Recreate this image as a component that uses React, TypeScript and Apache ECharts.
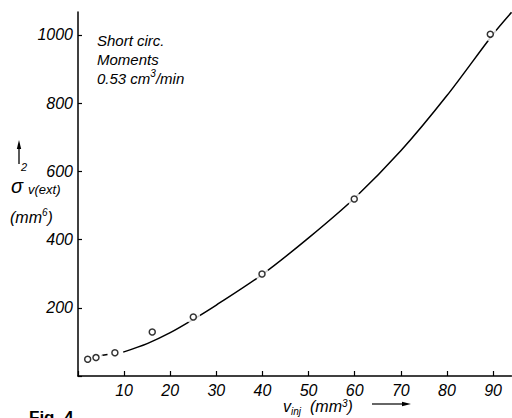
import React, { useEffect, useRef } from "react";
import * as echarts from "echarts";

// Measured points (v_inj in mm^3, sigma^2 in mm^6)
const pointsX = [2.1, 3.9, 8.0, 16.1, 25.0, 39.9, 59.9, 89.4];
const pointsY = [49, 54, 68, 129, 173, 299, 519, 1002];

// Fitted curve
const curveX = [9.8, 15, 20, 25, 30, 40, 50, 60, 70, 80, 90, 94];
const curveY = [70, 95, 127, 166, 208, 298, 405, 522, 660, 822, 1002, 1066];

// Short dash between the first points
const dashX = [5.0, 6.4];
const dashY = [60, 63];

const FONT = "'Liberation Sans', Arial, sans-serif";

export default function App() {
  const ref = useRef<HTMLDivElement>(null);
  useEffect(() => {
    if (!ref.current) return;
    const chart = echarts.init(ref.current, undefined, { renderer: "svg" });
    const pts = pointsX.map((x, i) => [x, pointsY[i]]);
    const curve = curveX.map((x, i) => [x, curveY[i]]);
    const dash = dashX.map((x, i) => [x, dashY[i]]);
    const txt = (x: number, y: number, text: string, size: number, extra: any = {}) => ({
      type: "text",
      x,
      y,
      silent: true,
      style: {
        text,
        fontSize: size,
        fontStyle: "italic",
        fontFamily: FONT,
        fill: "#000",
        verticalAlign: "middle",
        ...extra,
      },
    });
    const supText = (x: number, y: number, base: string, sup: string, tail: string, size: number, lh: number) => ({
      type: "text",
      x,
      y,
      silent: true,
      style: {
        text: `{a|${base}}{s|${sup}}{a|${tail}}`,
        verticalAlign: "middle",
        fill: "#000",
        rich: {
          a: { fontSize: size, fontStyle: "italic", fontFamily: FONT, fill: "#000", lineHeight: lh },
          s: { fontSize: 10, fontStyle: "italic", fontFamily: FONT, fill: "#000", verticalAlign: "top", lineHeight: lh },
        },
      },
    });
    chart.setOption({
      animation: false,
      backgroundColor: "#fff",
      grid: { left: 78, top: 12, width: 433.5, height: 364 },
      xAxis: {
        type: "value",
        min: 0,
        max: 94,
        interval: 10,
        splitLine: { show: false },
        axisLine: { show: true, lineStyle: { color: "#000", width: 1.5 } },
        axisTick: { show: true, inside: true, length: 5, lineStyle: { color: "#000", width: 1.2 } },
        axisLabel: {
          color: "#000",
          fontSize: 16,
          fontStyle: "italic",
          fontFamily: FONT,
          margin: 6,
          showMaxLabel: false,
          formatter: (v: number) => (v === 0 ? "" : String(v)),
        },
      },
      yAxis: {
        type: "value",
        min: 0,
        max: 1067,
        interval: 200,
        splitLine: { show: false },
        axisLine: { show: true, lineStyle: { color: "#000", width: 1.5 } },
        axisTick: { show: true, inside: true, length: 4, lineStyle: { color: "#000", width: 1.2 } },
        axisLabel: {
          color: "#000",
          fontSize: 16,
          fontStyle: "italic",
          fontFamily: FONT,
          margin: 5,
          showMaxLabel: false,
          formatter: (v: number) => (v === 0 ? "" : String(v)),
        },
      },
      series: [
        {
          type: "line",
          data: curve,
          smooth: 0.3,
          symbol: "none",
          lineStyle: { color: "#000", width: 1.5 },
          z: 2,
        },
        {
          type: "line",
          data: dash,
          symbol: "none",
          lineStyle: { color: "#000", width: 1.5 },
          z: 2,
        },
        {
          type: "scatter",
          data: pts,
          symbol: "circle",
          symbolSize: 14,
          itemStyle: { color: "#fff", borderWidth: 0 },
          z: 3,
        },
        {
          type: "scatter",
          data: pts,
          symbol: "circle",
          symbolSize: 6,
          itemStyle: { color: "#fff", borderColor: "#000", borderWidth: 1.5 },
          z: 4,
        },
      ],
      graphic: [
        txt(97, 40, "Short circ.", 15),
        txt(97, 59, "Moments", 15),
        supText(97, 78, "0.53 cm", "3", "/min", 15, 20),
        // y label arrow
        { type: "line", silent: true, shape: { x1: 19, y1: 164, x2: 19, y2: 146 }, style: { stroke: "#000", lineWidth: 1.3 } },
        { type: "polygon", silent: true, shape: { points: [[19, 140], [16.8, 149], [21.2, 149]] }, style: { fill: "#000" } },
        txt(11, 186, "σ", 20),
        txt(21, 167, "2", 11),
        txt(28, 189, "v(ext)", 13),
        supText(10, 217, "(mm", "6", ")", 16, 20),
        // x label
        txt(283, 406, "v", 16),
        txt(291, 411, "inj", 10),
        supText(310, 406, "(mm", "3", ")", 16, 16),
        { type: "line", silent: true, shape: { x1: 372, y1: 404, x2: 404, y2: 404 }, style: { stroke: "#000", lineWidth: 1.2 } },
        { type: "polygon", silent: true, shape: { points: [[411, 404], [402, 401.8], [402, 406.2]] }, style: { fill: "#000" } },
        {
          type: "text",
          x: 29,
          y: 409,
          silent: true,
          style: {
            text: "Fig. 4",
            fontSize: 17,
            fontWeight: "bold",
            fontFamily: FONT,
            fill: "#000",
            verticalAlign: "top",
          },
        },
      ],
    });
    return () => chart.dispose();
  }, []);
  return <div ref={ref} style={{ width: 512, height: 418, position: "absolute", left: 0, top: 0 }} />;
}
